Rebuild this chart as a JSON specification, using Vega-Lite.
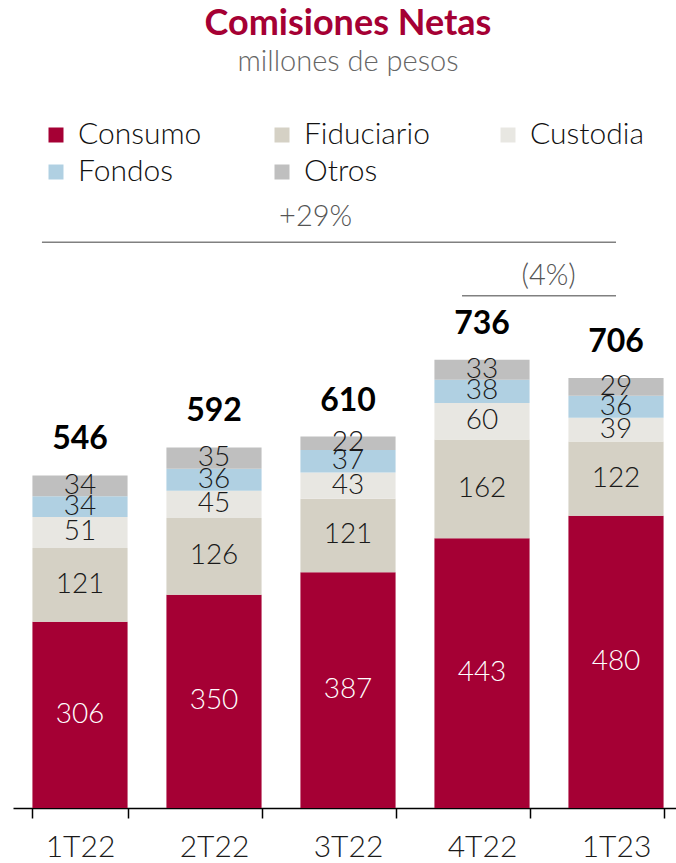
{
"$schema": "https://vega.github.io/schema/vega-lite/v6.json",
"width": 670,
"height": 609,
"autosize": {"type": "none"},
"padding": {"left": 13, "top": 199, "right": 0, "bottom": 55},
"background": "white",
"title": {"text": "Comisiones Netas", "subtitle": "millones de pesos", "font": "Lato", "fontSize": 36, "fontWeight": "bold", "color": "#A50034", "subtitleFont": "Lato", "subtitleFontSize": 29, "subtitleColor": "#666666", "subtitleFontWeight": 300, "subtitlePadding": 5, "anchor": "middle", "offset": 42},
"config": {"view": {"stroke": null}, "font": "Lato"},
"datasets": {
"fees": [
{"q": "1T22", "cat": "Consumo", "o": 1, "v": 306},
{"q": "1T22", "cat": "Fiduciario", "o": 2, "v": 121},
{"q": "1T22", "cat": "Custodia", "o": 3, "v": 51},
{"q": "1T22", "cat": "Fondos", "o": 4, "v": 34},
{"q": "1T22", "cat": "Otros", "o": 5, "v": 34},
{"q": "2T22", "cat": "Consumo", "o": 1, "v": 350},
{"q": "2T22", "cat": "Fiduciario", "o": 2, "v": 126},
{"q": "2T22", "cat": "Custodia", "o": 3, "v": 45},
{"q": "2T22", "cat": "Fondos", "o": 4, "v": 36},
{"q": "2T22", "cat": "Otros", "o": 5, "v": 35},
{"q": "3T22", "cat": "Consumo", "o": 1, "v": 387},
{"q": "3T22", "cat": "Fiduciario", "o": 2, "v": 121},
{"q": "3T22", "cat": "Custodia", "o": 3, "v": 43},
{"q": "3T22", "cat": "Fondos", "o": 4, "v": 37},
{"q": "3T22", "cat": "Otros", "o": 5, "v": 22},
{"q": "4T22", "cat": "Consumo", "o": 1, "v": 443},
{"q": "4T22", "cat": "Fiduciario", "o": 2, "v": 162},
{"q": "4T22", "cat": "Custodia", "o": 3, "v": 60},
{"q": "4T22", "cat": "Fondos", "o": 4, "v": 38},
{"q": "4T22", "cat": "Otros", "o": 5, "v": 33},
{"q": "1T23", "cat": "Consumo", "o": 1, "v": 480},
{"q": "1T23", "cat": "Fiduciario", "o": 2, "v": 122},
{"q": "1T23", "cat": "Custodia", "o": 3, "v": 39},
{"q": "1T23", "cat": "Fondos", "o": 4, "v": 36},
{"q": "1T23", "cat": "Otros", "o": 5, "v": 29}
],
"growthYear": [{"from": "1T22", "to": "1T23", "mid": "3T22", "label": "+29%"}],
"growthQuarter": [{"from": "4T22", "to": "1T23", "mid": "4T22", "label": "(4%)"}]
},
"encoding": {
"x": {"field": "q", "type": "nominal",
 "scale": {"domain": ["1T22", "2T22", "3T22", "4T22", "1T23"], "paddingInner": 0.29, "paddingOuter": 0.145},
 "axis": {"title": null, "labelAngle": 0, "domainColor": "#000000", "domainWidth": 1.5, "tickColor": "#000000", "tickWidth": 1.5, "tickSize": 10, "tickBand": "extent", "labelFont": "Lato", "labelFontSize": 30, "labelFontWeight": 300, "labelColor": "#1a1a1a", "labelPadding": 14}}
},
"layer": [
{
"data": {"name": "fees"},
"mark": {"type": "bar"},
"encoding": {
"y": {"field": "v", "type": "quantitative", "aggregate": "sum", "stack": "zero", "scale": {"domain": [0, 1000], "nice": false}, "axis": null},
"color": {"field": "cat", "type": "nominal",
 "scale": {"domain": ["Consumo", "Fiduciario", "Custodia", "Fondos", "Otros"], "range": ["#A50034", "#D5D1C5", "#E8E7E2", "#B0D0E2", "#BFBFBF"]},
 "legend": {"title": null, "orient": "none", "direction": "horizontal", "legendX": 28, "legendY": -79, "columns": 3, "symbolType": "square", "symbolSize": 225, "symbolStrokeWidth": 0, "labelFont": "Lato", "labelFontSize": 30, "labelFontWeight": 300, "labelColor": "#111111", "labelOffset": 7, "rowPadding": 7, "columnPadding": 63, "gridAlign": "all"}},
"order": {"field": "o", "type": "quantitative", "aggregate": "min"}
}
},
{
"data": {"name": "fees"},
"mark": {"type": "text", "font": "Lato", "fontSize": 28, "fontWeight": 300, "baseline": "middle"},
"encoding": {
"y": {"field": "v", "type": "quantitative", "aggregate": "sum", "stack": "zero", "bandPosition": 0.5},
"detail": {"field": "cat"},
"order": {"field": "o", "type": "quantitative", "aggregate": "min"},
"text": {"field": "v", "type": "quantitative", "aggregate": "sum"},
"color": {"condition": {"test": "datum.cat === 'Consumo'", "value": "#ffffff"}, "value": "#1a1a1a"}
}
},
{
"data": {"name": "fees"},
"mark": {"type": "text", "font": "Lato", "fontSize": 32, "fontWeight": "bold", "baseline": "alphabetic", "dy": -26, "color": "#000000"},
"encoding": {
"y": {"field": "v", "type": "quantitative", "aggregate": "sum"},
"text": {"field": "v", "type": "quantitative", "aggregate": "sum"}
}
},
{
"data": {"name": "growthYear"},
"mark": {"type": "rule", "color": "#808080", "strokeWidth": 1.5},
"encoding": {
"x": {"field": "from", "type": "nominal", "bandPosition": 0.1},
"x2": {"field": "to", "bandPosition": 0.5},
"y": {"datum": 929, "type": "quantitative"}
}
},
{
"data": {"name": "growthYear"},
"mark": {"type": "text", "font": "Lato", "fontSize": 29, "fontWeight": 300, "color": "#555555", "baseline": "middle"},
"encoding": {
"x": {"field": "mid", "type": "nominal", "bandPosition": 0.16},
"y": {"datum": 970, "type": "quantitative"},
"text": {"field": "label"}
}
},
{
"data": {"name": "growthQuarter"},
"mark": {"type": "rule", "color": "#808080", "strokeWidth": 1.5},
"encoding": {
"x": {"field": "from", "type": "nominal", "bandPosition": 0.29},
"x2": {"field": "to", "bandPosition": 0.5},
"y": {"datum": 841, "type": "quantitative"}
}
},
{
"data": {"name": "growthQuarter"},
"mark": {"type": "text", "font": "Lato", "fontSize": 29, "fontWeight": 300, "color": "#555555", "baseline": "middle"},
"encoding": {
"x": {"field": "mid", "type": "nominal", "bandPosition": 1.2},
"y": {"datum": 873, "type": "quantitative"},
"text": {"field": "label"}
}
}
]
}
